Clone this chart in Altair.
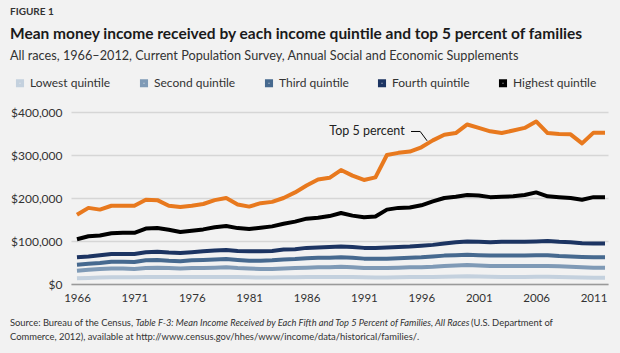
import altair as alt
import pandas as pd

# ---- data (thousands of 2012 dollars) ----
years = list(range(1966, 2013))

lowest = [13.5, 14, 15, 15.5, 15.5, 15.5, 16, 16.5, 16.5, 16,
          16, 16, 16.5, 16.5, 16, 15.5, 15, 15, 15.5, 15.5,
          16, 16, 16.5, 16.5, 16, 15.5, 15, 15, 15.5, 16,
          16, 16.5, 17, 17.5, 18, 17.5, 17, 16.5, 16.5, 16.5,
          17, 17, 16.5, 15.5, 15, 14.5, 14.5]
second = [31, 33, 35, 36, 36, 35, 37, 38, 37, 36,
          37, 37, 38, 39, 37, 36, 35, 35, 36, 37,
          38, 39, 39, 40, 39, 37, 37, 37, 38, 39,
          39, 40, 42, 43, 44, 43, 42, 42, 42, 42,
          42, 42, 41, 40, 39, 38, 38]
third = [45, 47, 49, 52, 52, 51, 55, 56, 54, 53,
         55, 56, 57, 58, 56, 54, 54, 55, 57, 58,
         60, 61, 61, 62, 61, 59, 59, 59, 60, 61,
         62, 64, 66, 67, 68, 67, 66, 66, 66, 66,
         67, 67, 65, 64, 63, 62, 62]
fourth = [62, 64, 67, 70, 70, 70, 74, 75, 73, 72,
          74, 76, 78, 79, 77, 76, 76, 77, 80, 81,
          84, 85, 86, 87, 86, 84, 84, 85, 86, 87,
          89, 91, 94, 97, 99, 98, 97, 98, 98, 98,
          99, 100, 98, 97, 95, 94, 94]
highest = [104, 111, 113, 118, 119, 119, 129, 130, 126, 121,
           124, 127, 132, 135, 130, 128, 131, 134, 140, 145,
           152, 154, 158, 165, 159, 155, 157, 173, 177, 178,
           183, 192, 200, 203, 207, 206, 202, 203, 204, 207,
           213, 204, 202, 200, 196, 202, 202]
top5 = [161, 177, 173, 182, 182, 182, 196, 195, 182, 179,
        182, 186, 195, 200, 185, 180, 188, 191, 200, 213,
        229, 243, 247, 265, 252, 242, 248, 300, 305, 308,
        318, 334, 347, 351, 371, 363, 355, 351, 357, 363,
        378, 351, 349, 348, 327, 352, 352]

series_names = ["Lowest quintile", "Second quintile", "Third quintile",
                "Fourth quintile", "Highest quintile", "Top 5 percent"]
series_colors = ["#C4D1DE", "#7F9AB6", "#46698F", "#1C3462", "#000000", "#E8791E"]
legend_names = series_names[:5]

x_ticks = list(range(1966, 2012, 5))
y_ticks = [0, 100000, 200000, 300000, 400000]

fig_label = "FIGURE 1"
title_text = "Mean money income received by each income quintile and top 5 percent of families"
subtitle_text = "All races, 1966\u20132012, Current Population Survey, Annual Social and Economic Supplements"
source_a = "Source: Bureau of the Census,"
source_b = "Table F-3: Mean Income Received by Each Fifth and Top 5 Percent of Families, All Races"
source_c = "(U.S. Department of"
source_d = "Commerce, 2012), available at http://www.census.gov/hhes/www/income/data/historical/families/."
annot_text = "Top 5 percent"
annot_pos = {"year": [1994.55], "income": [355000]}
leader_pts = {"year": [1995.1, 1995.9, 1996.5], "income": [354700, 354700, 333000]}

rows = []
for name, vals in zip(series_names, [lowest, second, third, fourth, highest, top5]):
    for yr, v in zip(years, vals):
        rows.append({"year": yr, "series": name, "income": v * 1000})
df = pd.DataFrame(rows)

FONT = "Lato"

xscale = alt.Scale(domain=[1965.48, 2012.26], nice=False, zero=False)
yscale = alt.Scale(domain=[0, 400000], nice=False)
cscale = alt.Scale(domain=series_names, range=series_colors)

x_enc = alt.X("year:Q", scale=xscale, title=None,
              axis=alt.Axis(values=x_ticks, format="d", grid=False, ticks=False,
                            domain=True, domainColor="#9a9a9a", domainWidth=1.5,
                            labelFont=FONT, labelFontSize=11.5, labelColor="#333333",
                            labelPadding=8, labelFlush=False))
y_enc = alt.Y("income:Q", scale=yscale, title=None,
              axis=alt.Axis(values=y_ticks, format="$,.0f", grid=True, gridColor="#D6D6D6",
                            gridWidth=1.5, ticks=False, domain=False,
                            labelFont=FONT, labelFontSize=12, labelColor="#333333",
                            labelPadding=9))

lines = alt.Chart(df).mark_line(strokeWidth=4, strokeJoin="round").encode(
    x=x_enc,
    y=y_enc,
    color=alt.Color("series:N", scale=cscale, sort=series_names,
                    legend=alt.Legend(values=legend_names, title=None, orient="none",
                                      direction="horizontal", legendX=-57, legendY=-35,
                                      symbolType="square", symbolSize=20, symbolStrokeWidth=3.6,
                                      labelFont=FONT, labelFontSize=12, labelColor="#333333",
                                      labelOffset=4, columnPadding=23, padding=0,
                                      columns=5)),
    detail="series:N",
)

one = pd.DataFrame({"k": [0]})


def txt(text, x, y, size, weight="normal", style="normal", color="#333333", align="left"):
    return alt.Chart(one).mark_text(text=text, align=align, baseline="middle", font=FONT,
                                    fontSize=size, fontWeight=weight, fontStyle=style,
                                    color=color).encode(x=alt.value(x), y=alt.value(y))


t_fig = txt(fig_label, -61, -100, 10, weight="bold", color="#333333")
t_title = txt(title_text, -61, -78, 15.5, weight="bold", color="#1a1a1a")
t_sub = txt(subtitle_text, -61, -56, 12.7, color="#333333")
t_sa = txt(source_a, -61, 211, 9.4)
t_sb = txt(source_b, 64.5, 211, 9.3, style="italic")
t_sc = txt(source_c, 400, 211, 9.4)
t_sd = txt(source_d, -61, 225, 9.4)

annot = alt.Chart(pd.DataFrame(annot_pos)).mark_text(
    text=annot_text, align="right", baseline="middle", font=FONT, fontSize=12.5, color="#222222"
).encode(x=alt.X("year:Q", scale=xscale), y=alt.Y("income:Q", scale=yscale))

leader = alt.Chart(pd.DataFrame(leader_pts)).mark_line(color="#000000", strokeWidth=1).encode(
    x=alt.X("year:Q", scale=xscale), y=alt.Y("income:Q", scale=yscale)
)

chart = alt.layer(lines, leader, annot, t_fig, t_title, t_sub, t_sa, t_sb, t_sc, t_sd).properties(
    width=537, height=172,
    padding={"left": 71, "top": 112, "right": 12, "bottom": 69},
    autosize=alt.AutoSizeParams(type="none"),
    background="#F2F2F2",
).configure_view(stroke=None)

chart.save("out.html", embed_options={"renderer": "svg", "actions": False})
